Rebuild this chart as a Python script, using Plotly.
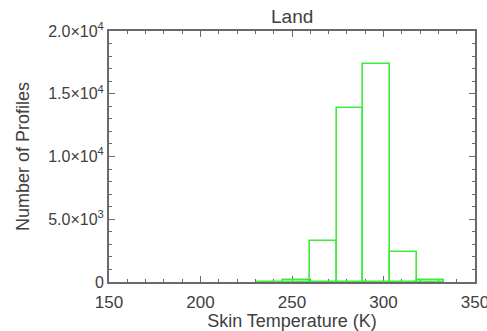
import plotly.graph_objects as go

# Histogram data (bin left edges in K, counts)
bin_lefts = [230.6, 245.2, 259.8, 274.4, 289.0, 303.6, 318.2]
bin_width = 14.6
counts = [40, 130, 3300, 13850, 17400, 2380, 130]

y_tickvals = [0, 5000, 10000, 15000, 20000]
y_ticktext = ["0", "5.0×10<sup>3</sup>", "1.0×10<sup>4</sup>", "1.5×10<sup>4</sup>", "2.0×10<sup>4</sup>"]
x_tickvals = [150, 200, 250, 300, 350]

green = "rgb(60,236,60)"
axis_col = "#6a6a6a"
text_col = "#404040"
font_family = "Liberation Sans, Arial, sans-serif"

fig = go.Figure()
fig.add_trace(go.Bar(
    x=bin_lefts, y=counts, width=[bin_width] * len(counts), offset=0,
    marker=dict(color="rgba(0,0,0,0)", line=dict(color=green, width=1.6)),
    showlegend=False,
))

fig.update_layout(
    width=487, height=331,
    margin=dict(l=109, r=12, t=31, b=49, autoexpand=False),
    paper_bgcolor="white", plot_bgcolor="white",
    bargap=0,
    font=dict(family=font_family, color=text_col, size=16),
    title=dict(text="Land", x=0.6, xanchor="center", y=0.952, yanchor="middle",
               font=dict(size=19, color=text_col)),
)
fig.update_xaxes(
    range=[150, 350], tickmode="array", tickvals=x_tickvals,
    ticks="inside", ticklen=6, tickwidth=1.3, tickcolor=axis_col,
    minor=dict(dtick=10, ticks="inside", ticklen=3, tickwidth=1.2, tickcolor=axis_col),
    showline=True, linecolor=axis_col, linewidth=2, mirror="ticks",
    showgrid=False, zeroline=False, layer="below traces", automargin=False,
    ticklabeloverflow="allow",
    title=dict(text="Skin Temperature (K)", font=dict(size=18), standoff=4),
    tickfont=dict(size=17), ticklabelstandoff=4,
)
fig.update_yaxes(
    range=[0, 20000], tickmode="array", tickvals=y_tickvals, ticktext=y_ticktext,
    ticks="inside", ticklen=6, tickwidth=1.3, tickcolor=axis_col,
    minor=dict(dtick=1000, ticks="inside", ticklen=3, tickwidth=1.2, tickcolor=axis_col),
    showline=True, linecolor=axis_col, linewidth=2, mirror="ticks",
    showgrid=False, zeroline=False, layer="below traces", automargin=False,
    title=dict(text="Number of Profiles", font=dict(size=18), standoff=14),
    tickfont=dict(size=16),
)

fig.write_html("out.html")
